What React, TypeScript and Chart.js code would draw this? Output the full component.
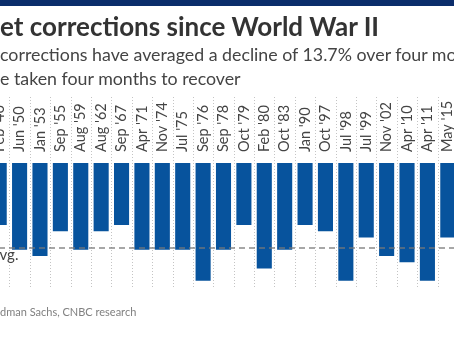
import React, { useEffect, useRef } from "react";
import { Chart, registerables } from "chart.js";

Chart.register(...registerables);

const categories = [
  "Feb '46", "Jun '50", "Jan '53", "Sep '55", "Aug '59", "Aug '62", "Sep '67",
  "Apr '71", "Nov '74", "Jul '75", "Sep '76", "Sep '78", "Oct '79", "Feb '80",
  "Oct '83", "Jan '90", "Oct '97", "Jul '98", "Jul '99", "Nov '02", "Apr '10",
  "Apr '11", "May '15",
];
const declines = [
  -10, -14, -15, -11, -14, -11, -10,
  -14, -14, -14, -19, -14, -10, -17,
  -14, -10, -11, -19, -12, -15, -16,
  -19, -12,
];
const averageDecline = -13.7;
const avgLabel = "Avg.";
const titleText = "et corrections since World War II";
const subtitleLines = [
  "corrections have averaged a decline of 13.7% over four mo",
  "e taken four months to recover",
];
const sourceText = "dman Sachs, CNBC research";

const FONT = "Lato, 'Noto Sans', sans-serif";
const LABEL_SIZE = 14.5;

const gridPlugin = {
  id: "categoryGrid",
  beforeDatasetsDraw(chart: any) {
    const xs = chart.scales.x;
    const area = chart.chartArea;
    const ctx = chart.ctx;
    const n = categories.length;
    const step = (xs.getPixelForValue(n - 1) - xs.getPixelForValue(0)) / (n - 1);
    ctx.save();
    ctx.strokeStyle = "#c4c4c4";
    ctx.lineWidth = 1;
    ctx.setLineDash([1, 2]);
    for (let i = 0; i <= n; i++) {
      const px = Math.round(xs.getPixelForValue(0) - step / 2 + i * step) + 0.5;
      ctx.beginPath();
      ctx.moveTo(px, 97);
      ctx.lineTo(px, area.bottom);
      ctx.stroke();
    }
    ctx.restore();
  },
  afterDatasetsDraw(chart: any) {
    const ys = chart.scales.y;
    const area = chart.chartArea;
    const ctx = chart.ctx;
    const y = ys.getPixelForValue(averageDecline);
    ctx.save();
    ctx.strokeStyle = "rgba(120,120,120,0.65)";
    ctx.lineWidth = 2;
    ctx.setLineDash([6, 4]);
    ctx.beginPath();
    ctx.moveTo(area.left, y);
    ctx.lineTo(area.right, y);
    ctx.stroke();
    ctx.setLineDash([]);
    ctx.fillStyle = "#444";
    ctx.font = `15px ${FONT}`;
    ctx.textBaseline = "alphabetic";
    ctx.textAlign = "left";
    ctx.fillText(avgLabel, area.left + 1, y + 12);
    ctx.restore();
  },
};

export default function App() {
  const ref = useRef<HTMLCanvasElement | null>(null);

  useEffect(() => {
    if (!ref.current) return;
    const chart = new Chart(ref.current, {
      type: "bar",
      data: {
        labels: categories,
        datasets: [
          {
            data: declines,
            backgroundColor: "#07539d",
            borderWidth: 0,
            barPercentage: 0.74,
            categoryPercentage: 1,
          },
        ],
      },
      options: {
        responsive: false,
        animation: false,
        devicePixelRatio: 1,
        layout: { padding: { top: 0, bottom: 54, left: 0, right: 0 } },
        plugins: { legend: { display: false }, tooltip: { enabled: false } },
        scales: {
          x: {
            position: "top",
            grid: { display: false, drawTicks: false },
            border: { display: false },
            ticks: {
              autoSkip: false,
              minRotation: 90,
              maxRotation: 90,
              padding: 11,
              labelOffset: LABEL_SIZE * 1.2,
              color: "#444",
              font: { family: FONT, size: LABEL_SIZE },
            },
            afterFit: (scale: any) => {
              scale.height = 163;
              scale.paddingLeft = 0;
              scale.paddingRight = 0;
            },
          },
          y: {
            display: false,
            min: -20,
            max: 0,
          },
        },
      },
      plugins: [gridPlugin],
    });
    return () => chart.destroy();
  }, []);

  return (
    <div
      style={{
        position: "fixed",
        left: 0,
        top: 0,
        width: 454,
        height: 341,
        overflow: "hidden",
        background: "#fff",
        fontFamily: FONT,
      }}
    >
      <canvas
        ref={ref}
        width={469}
        height={341}
        style={{ position: "absolute", left: -11, top: 0, width: 469, height: 341 }}
      />
      <div style={{ position: "absolute", left: 0, top: 0, width: 454, height: 6, background: "#0b2d6b" }} />
      <div
        style={{
          position: "absolute", left: 0, top: 13, whiteSpace: "nowrap",
          fontSize: 26, lineHeight: "26px", fontWeight: 700, color: "#333",
        }}
      >
        {titleText}
      </div>
      <div
        style={{
          position: "absolute", left: 0, top: 42, whiteSpace: "nowrap",
          fontSize: 17.8, lineHeight: "24px", color: "#444",
        }}
      >
        <div>{subtitleLines[0]}</div>
        <div>{subtitleLines[1]}</div>
      </div>
      <div
        style={{
          position: "absolute", left: 0, top: 305, whiteSpace: "nowrap",
          fontSize: 11, lineHeight: "14px", color: "#808080",
        }}
      >
        {sourceText}
      </div>
    </div>
  );
}
